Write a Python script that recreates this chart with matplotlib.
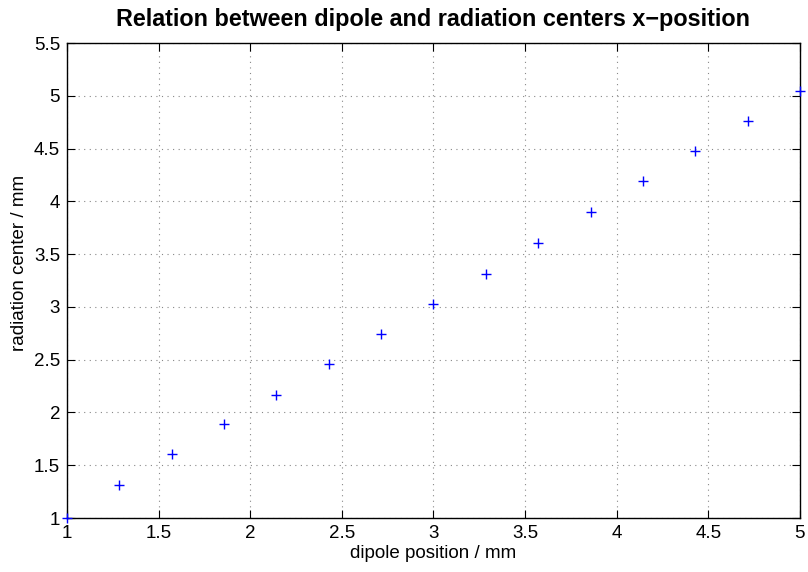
import matplotlib
matplotlib.use('Agg')
import matplotlib.pyplot as plt
import numpy as np

plt.rcParams['font.family'] = ['Liberation Sans', 'DejaVu Sans']

# dipole position / radiation center (mm)
dipole = [1.0, 1.286, 1.571, 1.857, 2.143, 2.429, 2.714, 3.0,
          3.286, 3.571, 3.857, 4.143, 4.429, 4.714, 5.0]
center = [1.0, 1.31, 1.605, 1.895, 2.17, 2.455, 2.74, 3.025,
          3.315, 3.605, 3.895, 4.19, 4.48, 4.765, 5.047]

xticks = [1, 1.5, 2, 2.5, 3, 3.5, 4, 4.5, 5]
yticks = [1, 1.5, 2, 2.5, 3, 3.5, 4, 4.5, 5, 5.5]

fig = plt.figure(figsize=(8.08, 5.72), dpi=100)
ax = fig.add_axes([0.083, 0.0944, 0.907, 0.8304])

ax.plot(dipole, center, '+', color='blue', markersize=7, markeredgewidth=1.0, clip_on=False, zorder=5)

ax.set_xlim(1, 5)
ax.set_ylim(1, 5.5)
ax.set_xticks(xticks)
ax.set_xticklabels(['%g' % t for t in xticks])
ax.set_yticks(yticks)
ax.set_yticklabels(['%g' % t for t in yticks])

ax.grid(True, linestyle=(0, (1, 4)), color='#888888', linewidth=0.8)
ax.tick_params(direction='in', top=True, right=True, length=6, labelsize=13.5, pad=5)
for s in ax.spines.values():
    s.set_linewidth(1.0)

ax.set_xlabel('dipole position / mm', fontsize=13.5, labelpad=2)
ax.set_ylabel('radiation center / mm', fontsize=13.5)
ax.yaxis.set_label_coords(-0.053, 0.537)
ax.set_title('Relation between dipole and radiation centers x\u2212position', fontsize=16.8, fontweight='bold', pad=12)

fig.savefig('out.png', dpi=100)
